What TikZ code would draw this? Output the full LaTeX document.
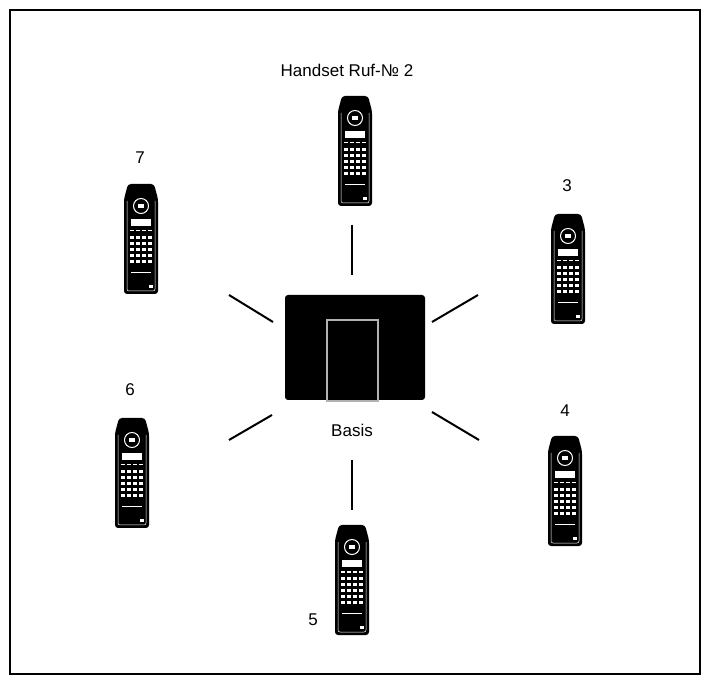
\documentclass[tikz,border=0pt]{standalone}
\usepackage{fontspec}
\setmainfont{Liberation Sans}
\begin{document}
\begin{tikzpicture}[x=1pt,y=-1pt,
  lbl/.style={font=\fontsize{17}{20}\selectfont,inner sep=0pt},
  ray/.style={line width=2pt},
  handset/.pic={
    \fill[black,rounded corners=3pt] (-13,-55) -- (13,-55) -- (17,-40) -- (17,55) -- (-17,55) -- (-17,-40) -- cycle;
    \draw[white,line width=0.5pt,rounded corners=2pt] (-14,-38) -- (-14,52) -- (14,52) -- (14,-38);
    \draw[white,line width=1pt] (0,-33) circle (7.5);
    \fill[white] (-3,-35) rectangle (3,-31);
    \fill[white] (-10,-20) rectangle (10,-13);
    \foreach \i in {-9,-3,3,9} \fill[white] (\i-1.8,-9) rectangle (\i+1.8,-7.5);
    \foreach \r in {0,...,4} \foreach \i in {-9,-3,3,9}
      \fill[white] (\i-2,-3+\r*6) rectangle (\i+2,\r*6);
    \draw[white,line width=0.4pt] (-10,33) -- (10,33);
    \fill[white] (8,46) rectangle (12,49);
  }]
\useasboundingbox (0,0) rectangle (710,684);
\draw[line width=1.2pt] (10,10) rectangle (700,674);
\path (355,151) pic {handset};
\path (141,239) pic {handset};
\path (568,269) pic {handset};
\path (132,473) pic {handset};
\path (565,491) pic {handset};
\path (352,580) pic {handset};
\fill[black,rounded corners=3pt] (285,295) rectangle (425,400);
\draw[gray!60,line width=2pt,fill=black] (327,320) rectangle (378,401);
\node[lbl] (h2) at (347,70) {Handset Ruf-№ 2};
\node[lbl] (h7) at (140,158) {7};
\node[lbl] (h3) at (567,186) {3};
\node[lbl] (h6) at (130,390) {6};
\node[lbl] (h4) at (565,411) {4};
\node[lbl] (h5) at (313,620) {5};
\node[lbl] (b) at (352,430) {Basis};
\draw[ray] (352,225) -- (352,275);
\draw[ray] (229,295) -- (273,322);
\draw[ray] (432,322) -- (478,295);
\draw[ray] (229,440) -- (272,415);
\draw[ray] (432,412) -- (479,440);
\draw[ray] (352,460) -- (352,510);
\end{tikzpicture}
\end{document}
